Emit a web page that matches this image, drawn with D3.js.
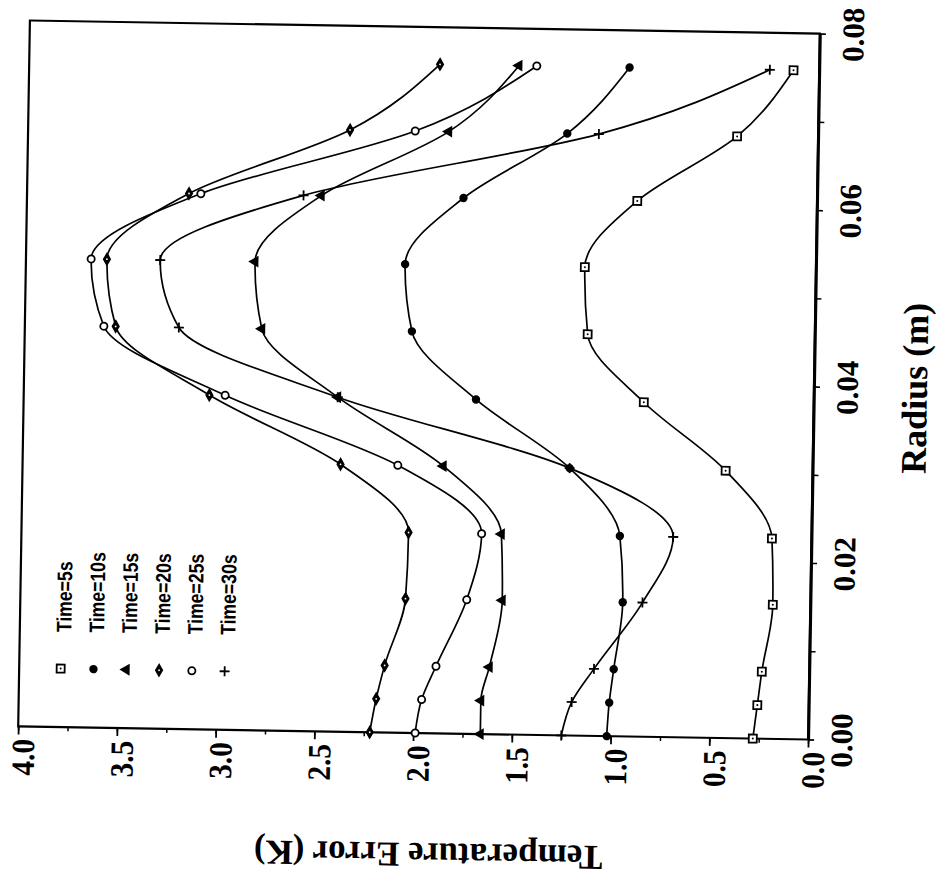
<!DOCTYPE html>
<html><head><meta charset="utf-8">
<script src="https://cdn.jsdelivr.net/npm/d3@7"></script>
<style>body{margin:0;background:#fff}</style>
</head><body>
<svg id="c" width="936" height="892"></svg>
<script>
// radius sample positions (m)
const radius = [0, 0.0038, 0.0076, 0.0152, 0.0227, 0.0303, 0.0379, 0.0455, 0.0531, 0.0607, 0.0682, 0.0758];
// temperature error (K) for each time
const t5  = [0.28, 0.26, 0.24, 0.19, 0.20, 0.44, 0.86, 1.15, 1.17, 0.91, 0.41, 0.13];
const t10 = [1.02, 1.01, 0.99, 0.95, 0.97, 1.23, 1.71, 2.04, 2.08, 1.79, 1.27, 0.96];
const t15 = [1.66, 1.66, 1.62, 1.56, 1.57, 1.87, 2.41, 2.80, 2.84, 2.51, 1.87, 1.52];
const t20 = [2.22, 2.19, 2.15, 2.05, 2.04, 2.39, 3.06, 3.54, 3.59, 3.18, 2.37, 1.92];
const t25 = [1.99, 1.96, 1.89, 1.74, 1.67, 2.10, 2.98, 3.60, 3.67, 3.12, 2.04, 1.43];
const t30 = [1.25, 1.20, 1.09, 0.85, 0.70, 1.23, 2.41, 3.22, 3.32, 2.60, 1.11, 0.25];
const seriesNames = ["Time=5s", "Time=10s", "Time=15s", "Time=20s", "Time=25s", "Time=30s"];
const markerTypes = ["square", "dot", "triangle", "diamond", "circle", "plus"];
const tempTicks = [4.0, 3.5, 3.0, 2.5, 2.0, 1.5, 1.0, 0.5, 0.0];
const tempLabels = ["4.0", "3.5", "3.0", "2.5", "2.0", "1.5", "1.0", "0.5", "0.0"];
const radiusTicks = [0, 0.02, 0.04, 0.06, 0.08];
const radiusLabels = ["0.00", "0.02", "0.04", "0.06", "0.08"];
const xTitle = "Radius (m)";
const yTitle = "Temperature Error (K)";

const series = [t5, t10, t15, t20, t25, t30];

const svg = d3.select("#c");
const root = svg.append("g").attr("transform", "rotate(0.95,419,380)");

// rotated layout: temperature runs horizontally (4 -> 0), radius vertically (0 bottom -> 0.08 top)
const x = d3.scaleLinear().domain([4, 0]).range([24, 814]);
const y = d3.scaleLinear().domain([0, 0.08]).range([733, 27]);

const serif = "'Liberation Serif','Times New Roman',serif";
const sans = "'Liberation Sans',Arial,sans-serif";

// frame
root.append("rect")
  .attr("x", x(4)).attr("y", y(0.08))
  .attr("width", x(0) - x(4)).attr("height", y(0) - y(0.08))
  .attr("fill", "none").attr("stroke", "#000").attr("stroke-width", 2.2);

// temperature axis (bottom)
const minorTemp = d3.range(0, 17).map(i => i * 0.25);
const axMinor = root.append("g").attr("transform", `translate(0,${y(0)})`)
  .call(d3.axisBottom(x).tickValues(minorTemp).tickSize(4).tickSizeOuter(0).tickFormat(""));
axMinor.select(".domain").remove();
axMinor.selectAll("line").attr("stroke-width", 1.5);
const axMajor = root.append("g").attr("transform", `translate(0,${y(0)})`)
  .call(d3.axisBottom(x).tickValues(tempTicks).tickSize(8).tickSizeOuter(0)
    .tickFormat((d, i) => tempLabels[i]));
axMajor.select(".domain").remove();
axMajor.selectAll("line").attr("stroke-width", 1.8);
axMajor.selectAll("text")
  .attr("transform", "rotate(-90) scale(0.95,1.05)")
  .attr("text-anchor", "end")
  .attr("x", -13).attr("y", 15).attr("dy", 0)
  .attr("fill", "#000")
  .style("font-family", serif).style("font-weight", "bold").style("font-size", "31px");

// radius axis (right)
const minorRad = d3.range(0, 9).map(i => i * 0.01);
const ayMinor = root.append("g").attr("transform", `translate(${x(0)},0)`)
  .call(d3.axisRight(y).tickValues(minorRad).tickSize(6).tickSizeOuter(0).tickFormat(""));
ayMinor.select(".domain").attr("stroke-width", 3);
ayMinor.selectAll("line").attr("stroke-width", 1.5);
const ayMajor = root.append("g").attr("transform", `translate(${x(0)},0)`)
  .call(d3.axisRight(y).tickValues(radiusTicks).tickSize(6).tickSizeOuter(0)
    .tickFormat((d, i) => radiusLabels[i]));
ayMajor.select(".domain").remove();
ayMajor.selectAll("text")
  .attr("transform", "rotate(-90)")
  .attr("text-anchor", "middle")
  .attr("x", 0).attr("y", 44).attr("dy", 0)
  .attr("fill", "#000")
  .style("font-family", serif).style("font-weight", "bold").style("font-size", "31px");

// titles
root.append("text")
  .attr("transform", "translate(927,380) rotate(-90)")
  .attr("text-anchor", "middle")
  .style("font-family", serif).style("font-weight", "bold").style("font-size", "36px")
  .text(xTitle);
root.append("text")
  .attr("transform", "translate(436,843) rotate(180)")
  .attr("text-anchor", "middle")
  .style("font-family", serif).style("font-weight", "bold").style("font-size", "35px")
  .text(yTitle);

// markers
function drawMarker(g, type, cx, cy) {
  const m = g.append("g").attr("transform", `translate(${cx},${cy})`);
  if (type === "square") {
    m.append("path").attr("d", d3.symbol(d3.symbolSquare, 64)())
      .attr("fill", "#fff").attr("stroke", "#000").attr("stroke-width", 1.8);
    m.append("circle").attr("r", 1).attr("fill", "#000");
  } else if (type === "dot") {
    m.append("circle").attr("r", 4.2).attr("fill", "#000");
  } else if (type === "triangle") {
    m.append("path").attr("d", d3.symbol(d3.symbolTriangle, 60)())
      .attr("transform", "rotate(-90)").attr("fill", "#000");
  } else if (type === "diamond") {
    m.append("path").attr("d", d3.symbol(d3.symbolDiamond, 42)())
      .attr("fill", "#000").attr("stroke", "#000").attr("stroke-width", 1.2);
    m.append("circle").attr("r", 0.9).attr("fill", "#fff");
  } else if (type === "circle") {
    m.append("circle").attr("r", 3.6)
      .attr("fill", "#fff").attr("stroke", "#000").attr("stroke-width", 1.8);
  } else if (type === "plus") {
    m.append("path").attr("d", "M-5,0H5M0,-5V5")
      .attr("stroke", "#000").attr("stroke-width", 1.8).attr("fill", "none");
  }
}

const line = d3.line()
  .x(d => x(d[1]))
  .y(d => y(d[0]))
  .curve(d3.curveMonotoneY);

series.forEach((vals, i) => {
  const pts = radius.map((r, j) => [r, vals[j]]);
  root.append("path")
    .attr("d", line(pts))
    .attr("fill", "none").attr("stroke", "#000").attr("stroke-width", 1.7);
});
series.forEach((vals, i) => {
  const mg = root.append("g");
  radius.forEach((r, j) => drawMarker(mg, markerTypes[i], x(vals[j]), y(r)));
});

// legend
const leg = root.append("g");
seriesNames.forEach((name, i) => {
  const mx = 65.5 + i * 32.8, my = 674.5;
  drawMarker(leg, markerTypes[i], mx, my);
  leg.append("text")
    .attr("transform", `translate(${mx + 10},638) rotate(-90) scale(0.84,1)`)
    .attr("text-anchor", "start")
    .style("font-family", sans).style("font-weight", "bold").style("font-size", "21px")
    .text(name);
});
</script>
</body></html>
